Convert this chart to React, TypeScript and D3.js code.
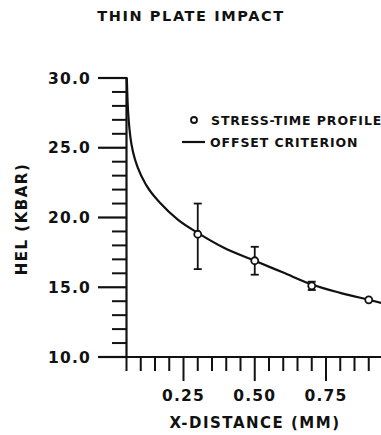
import React from "react";
import * as d3 from "d3";

// Offset criterion curve
const curveX = [0.051, 0.054, 0.058, 0.064, 0.074, 0.09, 0.12, 0.17, 0.23, 0.30, 0.39, 0.50, 0.60, 0.70, 0.80, 0.90, 0.95];
const curveY = [30.0, 28.2, 26.9, 25.7, 24.6, 23.55, 22.3, 21.0, 19.85, 18.9, 17.85, 16.9, 16.05, 15.2, 14.6, 14.1, 13.85];

// Stress-time profile points
const pointX = [0.30, 0.50, 0.70, 0.90];
const pointY = [18.8, 16.9, 15.1, 14.1];
const errLow = [16.3, 15.9, 14.8, null];
const errHigh = [21.0, 17.9, 15.4, null];

const yMajorTicks = [10, 15, 20, 25, 30];
const yTickLabels = ["10.0", "15.0", "20.0", "25.0", "30.0"];
const xMajorTicks = [0.25, 0.5, 0.75];
const xTickLabels = ["0.25", "0.50", "0.75"];

const title = "THIN PLATE IMPACT";
const xTitle = "X-DISTANCE (MM)";
const yTitle = "HEL (KBAR)";
const legendLabels = ["STRESS-TIME PROFILE", "OFFSET CRITERION"];

const W = 381;
const H = 435;
const FONT = "'DejaVu Sans', sans-serif";

export default function App() {
  const x = d3.scaleLinear().domain([0.05, 0.75]).range([126.5, 326]);
  const y = d3.scaleLinear().domain([10, 30]).range([357, 78]);

  const yMinor = d3.range(11, 30).filter((v) => v % 5 !== 0);
  const xMinor = d3
    .range(1, 20)
    .map((i) => +(0.05 * i).toFixed(2))
    .filter((v) => !xMajorTicks.some((m) => Math.abs(m - v) < 1e-6));

  const line = d3
    .line<number>()
    .x((_, i) => x(curveX[i]))
    .y((d) => y(d))
    .curve(d3.curveMonotoneX);

  const stroke = "#111";

  return (
    <svg width={W} height={H} style={{ position: "absolute", left: 0, top: 0, background: "#fff" }} fontFamily={FONT}>
      <rect width={W} height={H} fill="#fff" />
      <text x={191} y={21} textAnchor="middle" fontSize={14.5} fontWeight="bold" letterSpacing={1.6} fill={stroke}>
        {title}
      </text>

      {/* axes */}
      <line x1={x(0.05)} x2={x(0.05)} y1={y(10) + 1} y2={y(30) - 1} stroke={stroke} strokeWidth={2.2} />
      <line x1={x(0.05) - 1} x2={W + 5} y1={y(10)} y2={y(10)} stroke={stroke} strokeWidth={2.2} />

      {/* y ticks */}
      {yMajorTicks.map((v, i) => (
        <g key={"ym" + v}>
          <line x1={98} x2={x(0.05)} y1={y(v)} y2={y(v)} stroke={stroke} strokeWidth={2.2} />
          <text x={91} y={y(v)} dy="0.36em" textAnchor="end" fontSize={15.5} fontWeight="bold" letterSpacing={1.2} fill={stroke}>
            {yTickLabels[i]}
          </text>
        </g>
      ))}
      {yMinor.map((v) => (
        <line key={"yn" + v} x1={112} x2={x(0.05)} y1={y(v)} y2={y(v)} stroke={stroke} strokeWidth={2} />
      ))}

      {/* x ticks */}
      {xMinor.map((v) => (
        <line key={"xn" + v} x1={x(v)} x2={x(v)} y1={y(10)} y2={y(10) + 14} stroke={stroke} strokeWidth={2} />
      ))}
      {xMajorTicks.map((v, i) => (
        <g key={"xm" + v}>
          <line x1={x(v)} x2={x(v)} y1={y(10)} y2={y(10) + 24} stroke={stroke} strokeWidth={2} />
          <text x={x(v)} y={401} textAnchor="middle" fontSize={15.5} fontWeight="bold" letterSpacing={1.2} fill={stroke}>
            {xTickLabels[i]}
          </text>
        </g>
      ))}

      {/* axis titles */}
      <text x={255} y={428} textAnchor="middle" fontSize={15} fontWeight="bold" letterSpacing={1.5} fill={stroke}>
        {xTitle}
      </text>
      <text
        transform={`translate(27, 219) rotate(-90)`}
        textAnchor="middle"
        fontSize={15}
        fontWeight="bold"
        letterSpacing={1.5}
        fill={stroke}
      >
        {yTitle}
      </text>

      {/* curve */}
      <path d={line(curveY) || ""} fill="none" stroke={stroke} strokeWidth={2.2} />

      {/* error bars */}
      {pointX.map((px, i) =>
        errLow[i] != null && errHigh[i] != null ? (
          <g key={"e" + i} stroke={stroke} strokeWidth={1.8}>
            <line x1={x(px)} x2={x(px)} y1={y(errLow[i] as number)} y2={y(errHigh[i] as number)} />
            <line x1={x(px) - 4} x2={x(px) + 4} y1={y(errLow[i] as number)} y2={y(errLow[i] as number)} />
            <line x1={x(px) - 4} x2={x(px) + 4} y1={y(errHigh[i] as number)} y2={y(errHigh[i] as number)} />
          </g>
        ) : null
      )}
      {pointX.map((px, i) => (
        <circle key={"p" + i} cx={x(px)} cy={y(pointY[i])} r={3.5} fill="#fff" stroke={stroke} strokeWidth={1.8} />
      ))}

      {/* legend */}
      <circle cx={194} cy={120} r={3} fill="#fff" stroke={stroke} strokeWidth={1.8} />
      <text x={211} y={124.5} fontSize={12.5} fontWeight="bold" letterSpacing={0.9} fill={stroke}>
        {legendLabels[0]}
      </text>
      <line x1={182} x2={205} y1={142} y2={142} stroke={stroke} strokeWidth={2.2} />
      <text x={210} y={146.5} fontSize={12.5} fontWeight="bold" letterSpacing={0.9} fill={stroke}>
        {legendLabels[1]}
      </text>
    </svg>
  );
}
